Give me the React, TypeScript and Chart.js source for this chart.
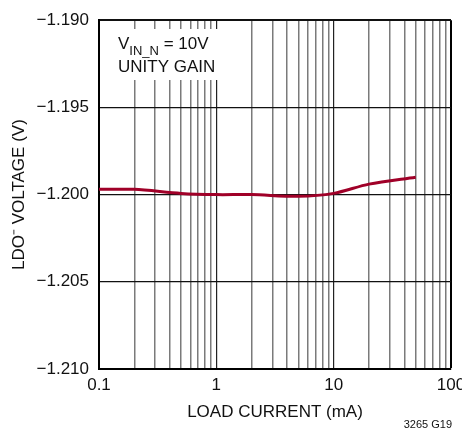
import { useEffect, useRef } from 'react';
import { Chart, registerables } from 'chart.js';

Chart.register(...registerables);

const loadCurrent = [0.1, 0.2, 0.5, 1, 2, 5, 10, 20, 50];
const ldoVoltage = [-1.1997, -1.1997, -1.19993, -1.2, -1.2, -1.2001, -1.19993, -1.1994, -1.199];
const xDecades = [0.1, 1, 10, 100];
const xMultipliers = [1, 2, 3, 4, 5, 6, 7, 8, 9];
const yTicks = [-1.21, -1.205, -1.2, -1.195, -1.19];
const xTitle = 'LOAD CURRENT (mA)';
const yTitle = 'LDO\u207B VOLTAGE (V)';
const noteLine1 = ['V', 'IN_N', ' = 10V'];
const noteLine2 = 'UNITY GAIN';
const figId = '3265 G19';

const FONT = '"Liberation Sans Narrow", "Liberation Sans", Arial, sans-serif';

const isDecade = (v: number) => xDecades.some((d) => Math.abs(v - d) < 1e-9);

export default function App() {
  const ref = useRef<HTMLCanvasElement>(null);
  useEffect(() => {
    if (!ref.current) return;
    const notePlugin = {
      id: 'note',
      beforeDatasetsDraw(chart: any) {
        const ctx = chart.ctx;
        const a = chart.chartArea;
        ctx.save();
        ctx.fillStyle = '#fff';
        ctx.fillRect(a.left + 1, 29, 120, 51);
        ctx.fillStyle = '#111';
        ctx.textBaseline = 'alphabetic';
        ctx.textAlign = 'left';
        ctx.font = `17px ${FONT}`;
        let x = 118;
        ctx.fillText(noteLine1[0], x, 49);
        x += ctx.measureText(noteLine1[0]).width;
        ctx.font = `13px ${FONT}`;
        ctx.fillText(noteLine1[1], x, 55);
        x += ctx.measureText(noteLine1[1]).width;
        ctx.font = `17px ${FONT}`;
        ctx.fillText(noteLine1[2], x, 49);
        ctx.fillText(noteLine2, 118, 72);
        ctx.restore();
      },
      afterDraw(chart: any) {
        const ctx = chart.ctx;
        ctx.save();
        ctx.fillStyle = '#111';
        ctx.font = `11px ${FONT}`;
        ctx.textAlign = 'right';
        ctx.textBaseline = 'middle';
        ctx.fillText(figId, 452, 425);
        ctx.restore();
      },
    };
    const chart = new Chart(ref.current, {
      type: 'line',
      data: {
        datasets: [
          {
            data: loadCurrent.map((x, i) => ({ x, y: ldoVoltage[i] })),
            borderColor: 'rgb(160,0,40)',
            borderWidth: 3,
            pointRadius: 0,
            tension: 0.3,
            fill: false,
          },
        ],
      },
      options: {
        animation: false,
        responsive: false,
        devicePixelRatio: 1,
        plugins: { legend: { display: false }, tooltip: { enabled: false } },
        layout: { padding: { top: 17, right: 11, left: 0, bottom: 0 } },
        scales: {
          x: {
            type: 'logarithmic',
            min: 0.1,
            max: 100,
            afterBuildTicks: (scale: any) => {
              const t: any[] = [];
              xDecades.slice(0, 3).forEach((d) =>
                xMultipliers.forEach((m) => t.push({ value: +(d * m).toPrecision(6) }))
              );
              t.push({ value: 100 });
              scale.ticks = t;
            },
            afterFit: (scale: any) => {
              scale.height = 68;
              scale.paddingRight = 0;
              scale.paddingLeft = 0;
            },
            ticks: {
              autoSkip: false,
              maxRotation: 0,
              padding: 6,
              color: '#111',
              font: { family: FONT, size: 17 },
              callback: (v: any) => (isDecade(Number(v)) ? String(Number(v)) : ''),
            },
            grid: {
              drawTicks: false,
              color: (c: any) => {
                const v = c.tick ? c.tick.value : 0;
                if (v >= 99.9 || v <= 0.1001) return '#000';
                return isDecade(v) ? '#222' : '#7a7a7a';
              },
              lineWidth: (c: any) => {
                const v = c.tick ? c.tick.value : 0;
                if (v >= 99.9) return 2;
                return isDecade(v) ? 1.2 : 1.5;
              },
            },
            border: { display: true, color: '#000', width: 2 },
            title: {
              display: true,
              text: xTitle,
              color: '#111',
              font: { family: FONT, size: 17 },
              padding: { top: 0, bottom: 14 },
            },
          },
          y: {
            type: 'linear',
            min: -1.21,
            max: -1.19,
            afterBuildTicks: (scale: any) => {
              scale.ticks = yTicks.map((v) => ({ value: v }));
            },
            afterFit: (scale: any) => {
              scale.width = 99;
            },
            ticks: {
              padding: 10,
              color: '#111',
              font: { family: FONT, size: 17 },
              callback: (v: any) => '\u2212' + Math.abs(Number(v)).toFixed(3),
            },
            grid: {
              drawTicks: false,
              color: '#111',
              lineWidth: (c: any) => {
                const v = c.tick ? c.tick.value : 0;
                return v > -1.1901 ? 2 : 1.2;
              },
            },
            border: { display: true, color: '#000', width: 2 },
            title: {
              display: true,
              text: yTitle,
              color: '#111',
              font: { family: FONT, size: 17 },
              padding: { top: 9, bottom: 0 },
            },
          },
        },
      },
      plugins: [notePlugin],
    } as any);
    return () => chart.destroy();
  }, []);
  return (
    <div style={{ position: 'fixed', left: 0, top: 0, width: 462, height: 437, background: '#fff' }}>
      <canvas ref={ref} width={462} height={437} />
    </div>
  );
}
